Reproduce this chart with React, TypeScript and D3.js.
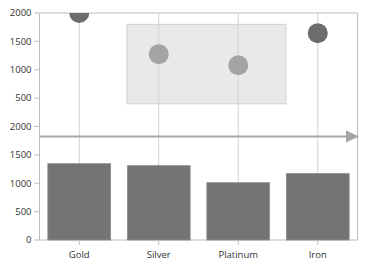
import React from "react";
import * as d3 from "d3";

const categories = ["Gold", "Silver", "Platinum", "Iron"];
const dotValues = [2000, 1275, 1080, 1645];
const dotHighlighted = [false, true, true, false];
const barValues = [1345, 1310, 1010, 1170];
const yTicksTop = [500, 1000, 1500, 2000];
const yTicksBottom = [0, 500, 1000, 1500, 2000];
// annotation rectangle: category index range and value range (top panel)
const rectIndexRange = [0.6, 2.6];
const rectValueRange = [400, 1800];
// arrow annotation value (bottom panel)
const arrowValue = [1825];

const W = 366;
const H = 264;
const left = 39.5;
const right = 357.5;
const topY = 13;
const midY = 126.5;
const botY = 240;

export default function App() {
  const x = d3.scaleBand<string>().domain(categories).range([left, right]).padding(0);
  const step = x.step();
  const cx = (i: number) => left + step * (i + 0.5);
  const yTop = d3.scaleLinear().domain([0, 2000]).range([midY, topY]);
  const yBot = d3.scaleLinear().domain([0, 2000]).range([botY, midY]);
  const font = "'Open Sans', 'DejaVu Sans', sans-serif";
  const gridColor = "#d2d2d2";
  const axisColor = "#bdbdbd";
  const barW = x.bandwidth() * 0.79;

  const axisTicks = (scale: d3.ScaleLinear<number, number>, ticks: number[], key: string) =>
    ticks.map((t) => (
      <g key={key + t}>
        <line x1={left - 5} x2={left} y1={scale(t)} y2={scale(t)} stroke={axisColor} />
        <text
          x={left - 8}
          y={scale(t)}
          dy="0.35em"
          textAnchor="end"
          fontSize={9.5}
          fontFamily={font}
          fill="#333"
        >
          {t}
        </text>
      </g>
    ));

  const ay = yBot(arrowValue[0]);

  return (
    <svg width={W} height={H} style={{ position: "absolute", left: 0, top: 0 }}>
      <defs>
        <clipPath id="topClip">
          <rect x={left} y={topY} width={right - left} height={midY - topY} />
        </clipPath>
      </defs>
      <rect width={W} height={H} fill="#fff" />
      {/* gridlines */}
      {categories.map((c, i) => (
        <line key={"g" + c} x1={cx(i)} x2={cx(i)} y1={topY} y2={botY} stroke={gridColor} />
      ))}
      {/* top border & right border */}
      <line x1={left} x2={right} y1={topY} y2={topY} stroke={axisColor} />
      <line x1={right} x2={right} y1={topY} y2={botY} stroke={axisColor} />
      {/* left axis */}
      <line x1={left} x2={left} y1={topY} y2={botY} stroke={axisColor} />
      <line x1={left} x2={right} y1={botY} y2={botY} stroke={axisColor} />
      {axisTicks(yTop, yTicksTop, "t")}
      {axisTicks(yBot, yTicksBottom, "b")}
      {/* annotation rect */}
      <rect
        x={cx(rectIndexRange[0])}
        y={yTop(rectValueRange[1])}
        width={cx(rectIndexRange[1]) - cx(rectIndexRange[0])}
        height={yTop(rectValueRange[0]) - yTop(rectValueRange[1])}
        fill="rgba(215,215,215,0.55)"
        stroke="#d0d0d0"
      />
      {/* dots */}
      <g clipPath="url(#topClip)">
        {categories.map((c, i) => (
          <circle
            key={"d" + c}
            cx={cx(i)}
            cy={yTop(dotValues[i])}
            r={10}
            fill={dotHighlighted[i] ? "#a4a4a4" : "#6c6c6c"}
          />
        ))}
      </g>
      {/* bars */}
      {categories.map((c, i) => (
        <rect
          key={"b" + c}
          x={cx(i) - barW / 2}
          y={yBot(barValues[i])}
          width={barW}
          height={botY - yBot(barValues[i])}
          fill="#747474"
          stroke="#8c8c8c"
          strokeWidth={0.8}
        />
      ))}
      {/* x ticks + labels */}
      {categories.map((c, i) => (
        <g key={"x" + c}>
          <line x1={cx(i)} x2={cx(i)} y1={botY} y2={botY + 5} stroke={axisColor} />
          <text
            x={cx(i)}
            y={258}
            textAnchor="middle"
            fontSize={9.5}
            fontFamily={font}
            fill="#333"
          >
            {c}
          </text>
        </g>
      ))}
      {/* arrow */}
      <line x1={left} x2={347} y1={ay} y2={ay} stroke="#a6a6a6" strokeWidth={2} />
      <path d={`M346,${ay - 6}L359,${ay}L346,${ay + 6}Z`} fill="#a6a6a6" />
    </svg>
  );
}
